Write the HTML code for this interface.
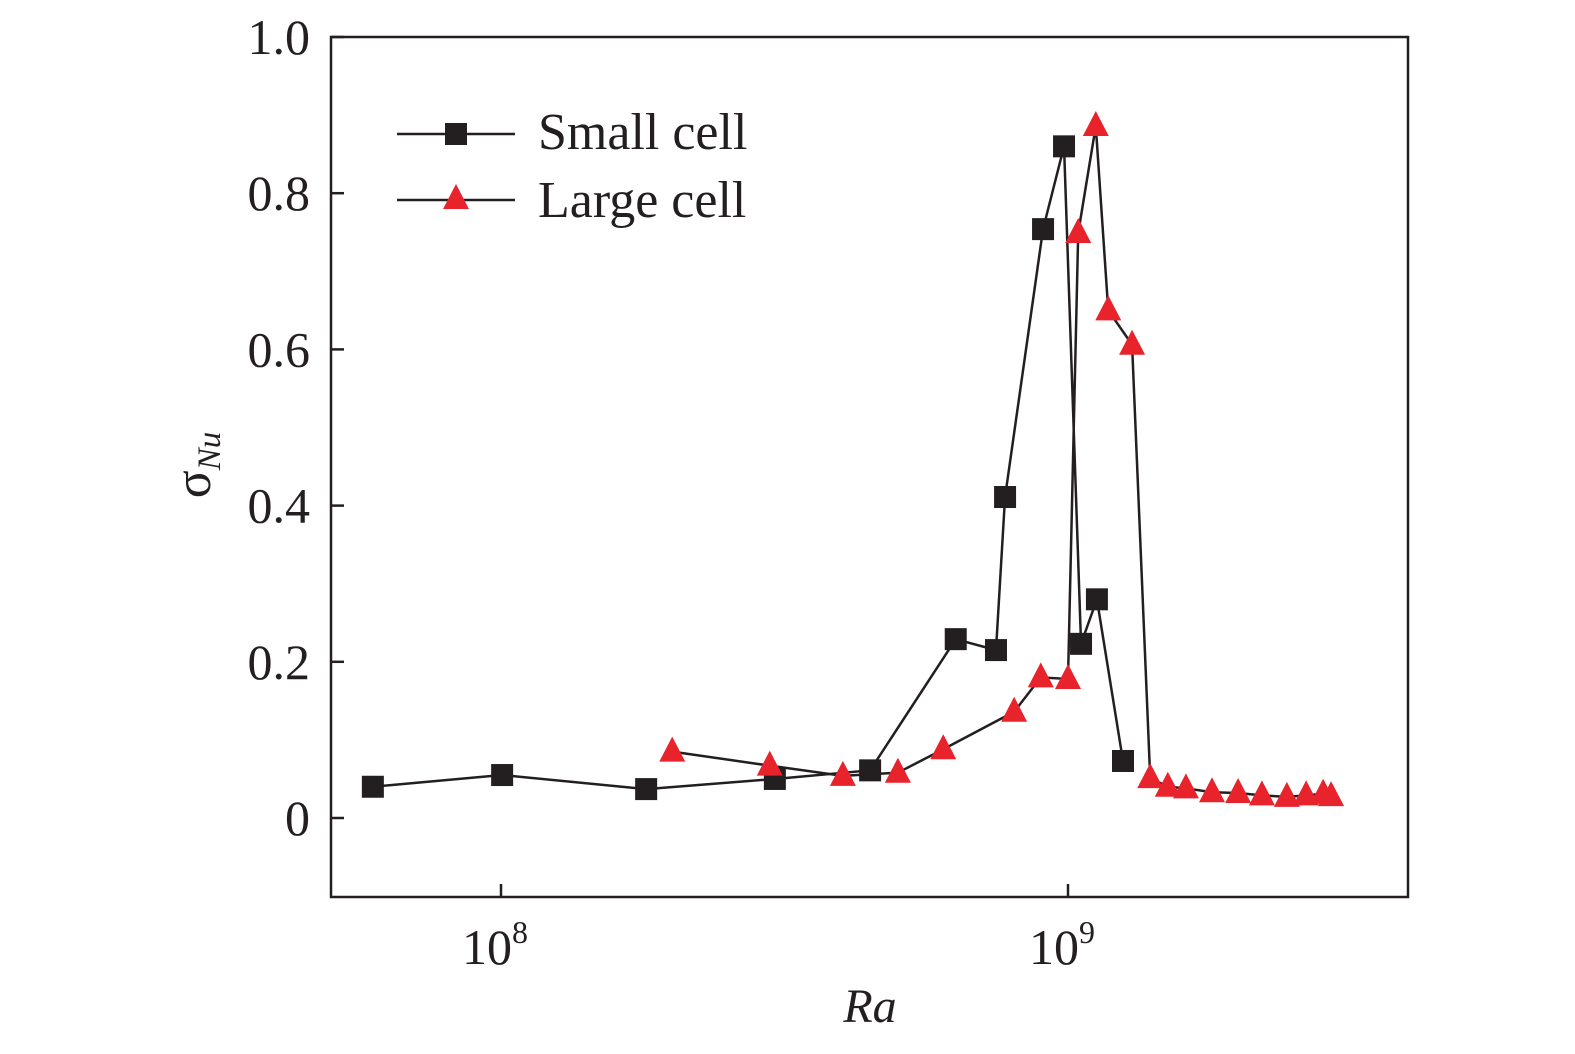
<!DOCTYPE html>
<html><head><meta charset="utf-8"><style>
body{margin:0;background:#fff}
svg text{font-family:"Liberation Serif",serif;fill:#231f20}
</style></head><body>
<svg id="chart" width="1575" height="1049" viewBox="0 0 1575 1049" xmlns="http://www.w3.org/2000/svg">
<rect x="331" y="37" width="1077" height="860" fill="none" stroke="#231f20" stroke-width="2.5"/>
<g id="axes"></g>
<g id="series"></g>
<text x="870" y="1022" font-size="48" font-style="italic" text-anchor="middle">Ra</text>
<text transform="translate(210,465) rotate(-90)" font-size="52" text-anchor="middle">σ<tspan font-size="33" font-style="italic" dy="10">Nu</tspan></text>
<g>
<line x1="397" y1="134" x2="515" y2="134" stroke="#231f20" stroke-width="2.5"/>
<rect x="445" y="123" width="22" height="22" fill="#231f20"/>
<text x="538" y="149" font-size="52">Small cell</text>
<line x1="397" y1="200" x2="515" y2="200" stroke="#231f20" stroke-width="2.5"/>
<polygon points="456,184 443,209 469,209" fill="#e8232b"/>
<text x="538" y="217" font-size="52">Large cell</text>
</g>
</svg>
<script>
const smallLogRa=[7.774,8.002,8.256,8.483,8.651,8.802,8.873,8.889,8.956,8.993,9.023,9.051,9.097];
const smallSigma=[0.040,0.055,0.037,0.050,0.061,0.229,0.215,0.411,0.754,0.860,0.223,0.280,0.073];
const largeLogRa=[8.302,8.474,8.603,8.700,8.780,8.905,8.952,9.000,9.018,9.049,9.071,9.113,9.145,9.176,9.208,9.254,9.300,9.342,9.386,9.420,9.450,9.464];
const largeSigma=[0.085,0.067,0.054,0.058,0.088,0.136,0.180,0.178,0.749,0.886,0.650,0.606,0.051,0.040,0.038,0.033,0.032,0.029,0.027,0.029,0.031,0.028];
const yTicks=[0,0.2,0.4,0.6,0.8,1.0];
const yTickLabels=["0","0.2","0.4","0.6","0.8","1.0"];
const xTicks=[8,9];
const NS="http://www.w3.org/2000/svg";
const X=v=>501+(v-8)*567;
const Y=v=>818-v*781;
const axes=document.getElementById('axes'),ser=document.getElementById('series');
function mk(t,a,p){const e=document.createElementNS(NS,t);for(const k in a)e.setAttribute(k,a[k]);p.appendChild(e);return e;}
yTicks.forEach((v,i)=>{
 const l=mk('line',{x1:331,x2:344,y1:Y(v),y2:Y(v),stroke:'#231f20','stroke-width':2.5},axes);
 
 
 const t=mk('text',{x:310,y:Y(v)+17,'font-size':50,'text-anchor':'end'},axes);
 t.textContent=yTickLabels[i];
 
 
});
xTicks.forEach(v=>{
 const l=mk('line',{x1:X(v),x2:X(v),y1:897,y2:884,stroke:'#231f20','stroke-width':2.5},axes);
 
 
 const t=mk('text',{x:X(v)-6,y:964,'font-size':50,'text-anchor':'middle'},axes);
 t.innerHTML='10<tspan font-size="32" dy="-21">'+v+'</tspan>';
 
 
});
function line(xs,ys,name){
 const p=mk('polyline',{points:xs.map((x,i)=>X(x)+','+Y(ys[i])).join(' '),fill:'none',stroke:'#231f20','stroke-width':2.5},ser);
 
 
}
line(smallLogRa,smallSigma,'small-cell-line');
line(largeLogRa,largeSigma,'large-cell-line');
smallLogRa.forEach((x,i)=>{
 const r=mk('rect',{x:X(x)-11,y:Y(smallSigma[i])-11,width:22,height:22,fill:'#231f20'},ser);
 
 
});
largeLogRa.forEach((x,i)=>{
 const cx=X(x),cy=Y(largeSigma[i]);
 const p=mk('polygon',{points:`${cx},${cy-15} ${cx-13},${cy+10} ${cx+13},${cy+10}`,fill:'#e8232b'},ser);
 
 
});
</script>
</body></html>
